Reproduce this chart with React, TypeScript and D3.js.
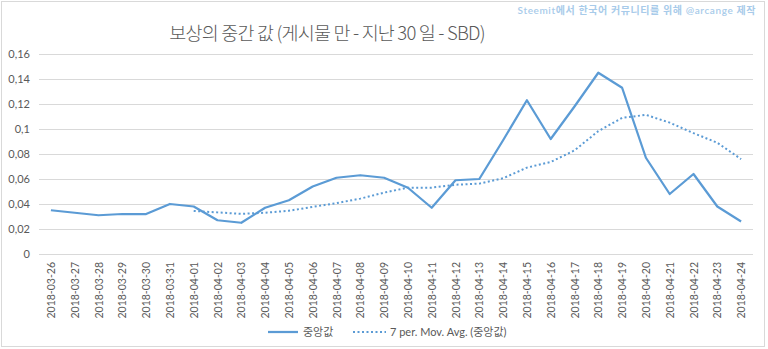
import React from "react";
import * as d3 from "d3";

const categories = [
  "2018-03-26","2018-03-27","2018-03-28","2018-03-29","2018-03-30","2018-03-31",
  "2018-04-01","2018-04-02","2018-04-03","2018-04-04","2018-04-05","2018-04-06",
  "2018-04-07","2018-04-08","2018-04-09","2018-04-10","2018-04-11","2018-04-12",
  "2018-04-13","2018-04-14","2018-04-15","2018-04-16","2018-04-17","2018-04-18",
  "2018-04-19","2018-04-20","2018-04-21","2018-04-22","2018-04-23","2018-04-24",
];
const medianValues = [
  0.035, 0.033, 0.031, 0.032, 0.032, 0.040, 0.038, 0.027, 0.025, 0.037,
  0.043, 0.054, 0.061, 0.063, 0.061, 0.053, 0.037, 0.059, 0.060, 0.091,
  0.123, 0.092, 0.118, 0.145, 0.133, 0.077, 0.048, 0.064, 0.038, 0.026,
];
const movingAvg: (number | null)[] = [
  null, null, null, null, null, null, 0.0344, 0.0333, 0.0321, 0.033,
  0.0346, 0.0377, 0.0407, 0.0443, 0.0491, 0.0531, 0.0531, 0.0554, 0.0563, 0.0606,
  0.0691, 0.0736, 0.0829, 0.0983, 0.1089, 0.1113, 0.1051, 0.0967, 0.0890, 0.0759,
];
const yTicks = [0, 0.02, 0.04, 0.06, 0.08, 0.1, 0.12, 0.14, 0.16];
const title = "보상의 중간 값 (게시물 만 - 지난 30 일 - SBD)";
const watermark = "Steemit에서 한국어 커뮤니티를 위해 @arcange 제작";
const seriesName = "중앙값";
const trendName = "7 per. Mov. Avg. (중앙값)";

const W = 768, H = 349;
const plot = { left: 39, right: 753, top: 54, bottom: 254 };
const color = "#5B9BD5";
const textColor = "#595959";
const font = "Lato, 'Noto Sans CJK KR', sans-serif";

export default function App() {
  const x = d3.scalePoint<string>().domain(categories).range([plot.left, plot.right]).padding(0.5);
  const y = d3.scaleLinear().domain([0, 0.16]).range([plot.bottom, plot.top]);
  const line = d3.line<number>().x((_, i) => x(categories[i])!).y((d) => y(d));
  const maLine = d3
    .line<number | null>()
    .defined((d) => d !== null)
    .x((_, i) => x(categories[i])!)
    .y((d) => y(d as number));
  const fmt = (v: number) => String(+v.toFixed(2)).replace(".", ",");

  return (
    <svg width={W} height={H} style={{ position: "absolute", left: 0, top: 0, background: "#fff" }} fontFamily={font}>
      <rect x={1.5} y={1.5} width={763} height={345} fill="#fff" stroke="#d9d9d9" />
      <text x={756} y={14} textAnchor="end" fontSize={10} fontWeight={600} letterSpacing={0.6} fill="#A8CBEA">{watermark}</text>
      <text x={327} y={40} textAnchor="middle" fontSize={18.5} fill={textColor} fontFamily="'Noto Sans CJK KR', sans-serif" fontWeight={300} letterSpacing={-0.8}>{title}</text>
      {yTicks.map((t) => (
        <g key={t}>
          <line x1={plot.left} x2={plot.right} y1={Math.round(y(t)) + 0.5} y2={Math.round(y(t)) + 0.5} stroke="#d9d9d9" strokeWidth={1} />
          <text x={30} y={y(t) + 4} textAnchor="end" fontSize={11} fill={textColor}>{fmt(t)}</text>
        </g>
      ))}
      {categories.map((c) => (
        <text key={c} transform={`translate(${x(c)! + 4},262) rotate(-90)`} textAnchor="end" fontSize={10.5} fill={textColor}>{c}</text>
      ))}
      <path d={maLine(movingAvg) || ""} fill="none" stroke={color} strokeWidth={2} strokeDasharray="2,2.5" />
      <path d={line(medianValues) || ""} fill="none" stroke={color} strokeWidth={2.25} strokeLinejoin="round" />
      <line x1={268} x2={298} y1={332} y2={332} stroke={color} strokeWidth={2.25} />
      <text x={303} y={336} fontSize={11} fill={textColor}>{seriesName}</text>
      <line x1={353} x2={386} y1={332} y2={332} stroke={color} strokeWidth={2} strokeDasharray="2,2.5" />
      <text x={390} y={336} fontSize={11} fill={textColor}>{trendName}</text>
    </svg>
  );
}
